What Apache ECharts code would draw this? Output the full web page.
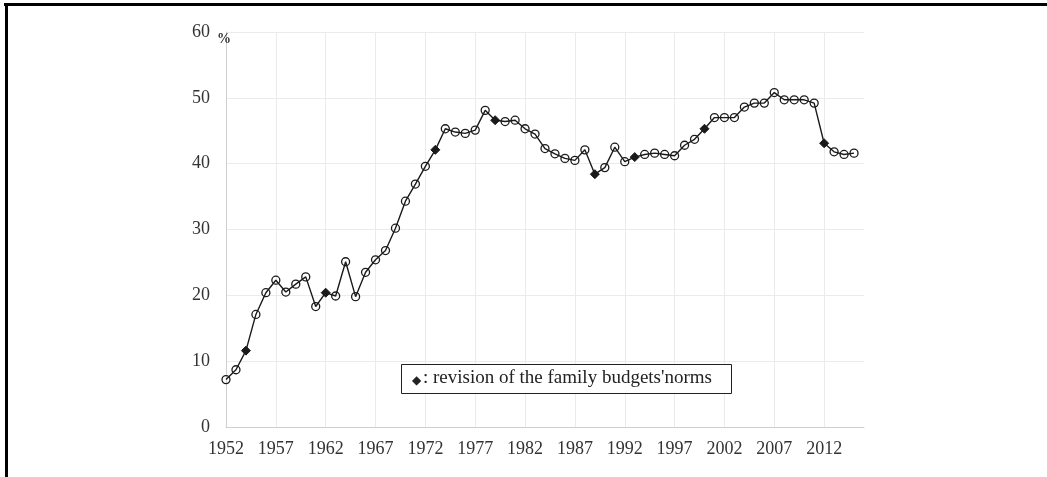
<!DOCTYPE html>
<html>
<head>
<meta charset="utf-8">
<script src="https://cdn.jsdelivr.net/npm/echarts@6/dist/echarts.min.js"></script>
<style>
  html, body { margin: 0; padding: 0; background: #fff; }
  #chart { width: 1047px; height: 477px; }
</style>
</head>
<body>
<div id="chart"></div>
<script>
// years on the axis (last one is just the axis end)
const years = [
  1952, 1953, 1954, 1955, 1956, 1957, 1958, 1959, 1960, 1961,
  1962, 1963, 1964, 1965, 1966, 1967, 1968, 1969, 1970, 1971,
  1972, 1973, 1974, 1975, 1976, 1977, 1978, 1979, 1980, 1981,
  1982, 1983, 1984, 1985, 1986, 1987, 1988, 1989, 1990, 1991,
  1992, 1993, 1994, 1995, 1996, 1997, 1998, 1999, 2000, 2001,
  2002, 2003, 2004, 2005, 2006, 2007, 2008, 2009, 2010, 2011,
  2012, 2013, 2014, 2015, 2016
]

// share in %, 1952 -> 2015
const share = [
  7.2, 8.7, 11.6, 17.1, 20.4, 22.3, 20.5, 21.7, 22.8, 18.3,
  20.4, 19.9, 25.1, 19.8, 23.5, 25.4, 26.8, 30.2, 34.3, 36.9,
  39.6, 42.1, 45.3, 44.8, 44.6, 45.1, 48.1, 46.6, 46.4, 46.6,
  45.3, 44.5, 42.3, 41.5, 40.8, 40.5, 42.1, 38.4, 39.4, 42.5,
  40.3, 41.0, 41.4, 41.6, 41.4, 41.2, 42.8, 43.7, 45.3, 47.0,
  47.0, 47.0, 48.6, 49.2, 49.2, 50.8, 49.7, 49.7, 49.7, 49.2,
  43.1, 41.8, 41.4, 41.6
]

// years where the family budget norms were revised (diamond markers)
const revisions = [1954, 1962, 1973, 1979, 1989, 1993, 2000, 2012]

const yTicks = { min: 0, max: 60, interval: 10 }

const serif = '"Liberation Serif", "DejaVu Serif", serif'

const seriesData = share.map((v, i) => {
  if (revisions.includes(years[i])) {
    return {
      value: v,
      symbol: 'diamond',
      symbolSize: 9,
      itemStyle: { color: '#1a1a1a', borderColor: '#1a1a1a', borderWidth: 1 }
    }
  }
  return v
})

const chart = echarts.init(document.getElementById('chart'))

chart.setOption({
  animation: false,
  grid: { left: 226, right: 183, top: 32, bottom: 50, containLabel: false },
  xAxis: {
    type: 'category',
    data: years,
    boundaryGap: false,
    axisLine: { lineStyle: { color: '#cfcfcf', width: 1 } },
    axisTick: { show: false },
    axisLabel: {
      interval: 4,
      margin: 13,
      color: '#333',
      fontFamily: serif,
      fontSize: 18
    },
    splitLine: { show: true, interval: 4, lineStyle: { color: '#ebebeb', width: 1 } }
  },
  yAxis: {
    type: 'value',
    min: yTicks.min,
    max: yTicks.max,
    interval: yTicks.interval,
    axisLine: { show: true, lineStyle: { color: '#cfcfcf', width: 1 } },
    axisTick: { show: false },
    axisLabel: {
      margin: 16,
      color: '#333',
      fontFamily: serif,
      fontSize: 18
    },
    splitLine: { lineStyle: { color: '#ebebeb', width: 1 } }
  },
  series: [
    {
      type: 'line',
      data: seriesData,
      symbol: 'circle',
      symbolSize: 8,
      showAllSymbol: true,
      lineStyle: { color: '#1a1a1a', width: 1.4 },
      itemStyle: { color: 'rgba(255,255,255,0)', borderColor: '#1a1a1a', borderWidth: 1.3 }
    }
  ],
  graphic: [
    // frame lines (top and left)
    { type: 'rect', z: 100, shape: { x: 4, y: 3, width: 1043, height: 3 }, style: { fill: '#000' } },
    { type: 'rect', z: 100, shape: { x: 5, y: 3, width: 3, height: 474 }, style: { fill: '#000' } },
    // unit
    {
      type: 'text', z: 100, left: 217, top: 32,
      style: { text: '%', font: 'bold 14px ' + serif, fill: '#333' }
    },
    // annotation box
    {
      type: 'rect', z: 100,
      shape: { x: 401.5, y: 364.5, width: 330, height: 29 },
      style: { fill: '#fff', stroke: '#222', lineWidth: 1 }
    },
    {
      type: 'text', z: 101, left: 412, top: 375,
      style: { text: '\u25C6', font: '12px ' + serif, fill: '#222' }
    },
    {
      type: 'text', z: 101, left: 423, top: 369,
      style: { text: ': revision of the family budgets\'norms', font: '19px ' + serif, fill: '#222' }
    }
  ]
})
</script>
</body>
</html>
